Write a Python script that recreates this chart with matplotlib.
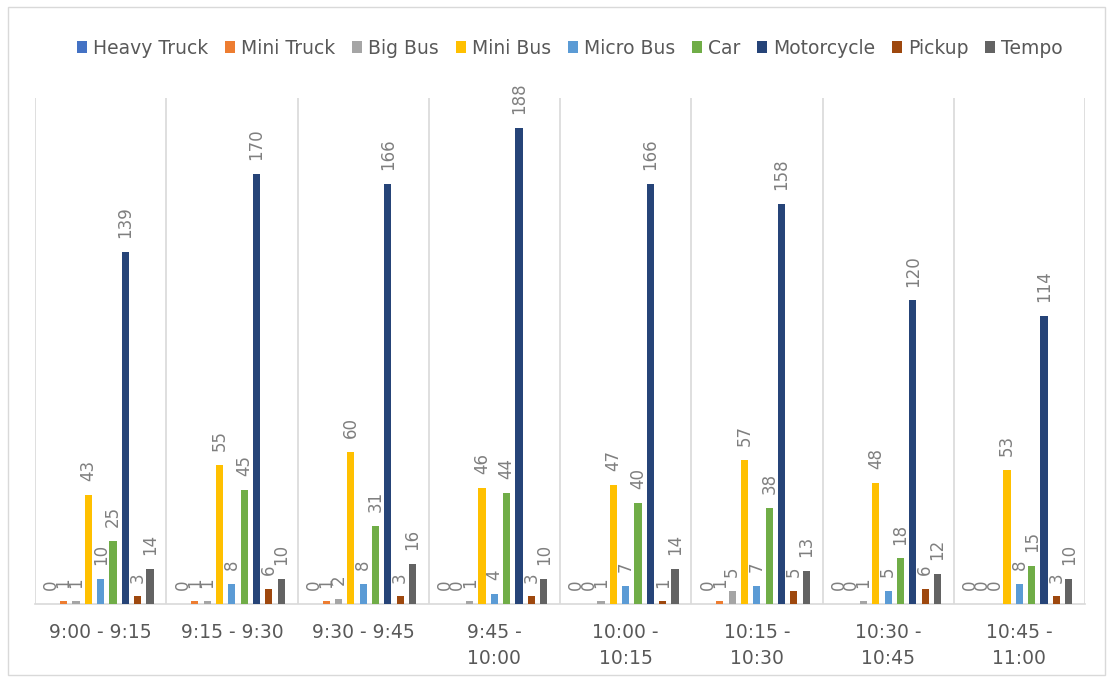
import matplotlib
matplotlib.use("Agg")
import matplotlib.pyplot as plt
import numpy as np
from matplotlib.patches import Rectangle

categories = ["9:00 - 9:15", "9:15 - 9:30", "9:30 - 9:45", "9:45 -\n10:00",
              "10:00 -\n10:15", "10:15 -\n10:30", "10:30 -\n10:45", "10:45 -\n11:00"]
series_names = ["Heavy Truck", "Mini Truck", "Big Bus", "Mini Bus", "Micro Bus",
                "Car", "Motorcycle", "Pickup", "Tempo"]
heavy_truck = [0, 0, 0, 0, 0, 0, 0, 0]
mini_truck = [1, 1, 1, 0, 0, 1, 0, 0]
big_bus = [1, 1, 2, 1, 1, 5, 1, 0]
mini_bus = [43, 55, 60, 46, 47, 57, 48, 53]
micro_bus = [10, 8, 8, 4, 7, 7, 5, 8]
car = [25, 45, 31, 44, 40, 38, 18, 15]
motorcycle = [139, 170, 166, 188, 166, 158, 120, 114]
pickup = [3, 6, 3, 3, 1, 5, 6, 3]
tempo = [14, 10, 16, 10, 14, 13, 12, 10]
colors = ["#4472C4", "#ED7D31", "#A5A5A5", "#FFC000", "#5B9BD5",
          "#70AD47", "#264478", "#9E480E", "#636363"]

series = [heavy_truck, mini_truck, big_bus, mini_bus, micro_bus, car, motorcycle, pickup, tempo]

fig = plt.figure(figsize=(11.13, 6.82), dpi=100)
ax = fig.add_axes([35/1113, 1-604/682, (1085-35)/1113, (604-98)/682])

n = len(series)
x = np.arange(len(categories))
step = 0.094
width = 0.055
for i, (name, vals, c) in enumerate(zip(series_names, series, colors)):
    pos = x + (i - (n - 1) / 2) * step
    ax.bar(pos, vals, width=width, color=c, label=name, zorder=3)
    for p, v in zip(pos, vals):
        ax.annotate(str(v), (p, v), xytext=(0, 10), textcoords="offset points",
                    rotation=90, ha="center", va="bottom",
                    fontsize=12, color="#7F7F7F", zorder=4)

ax.set_xlim(-0.5, len(categories) - 0.5)
ax.set_ylim(0, 200)
ax.set_yticks([])
for b in np.arange(-0.5, len(categories) + 0.5, 1):
    ax.axvline(b, color="#D9D9D9", lw=1.2, zorder=1)
for s in ["top", "right", "left"]:
    ax.spines[s].set_visible(False)
ax.spines["bottom"].set_color("#D9D9D9")
ax.spines["bottom"].set_linewidth(1.2)
ax.set_xticks(x)
ax.set_xticklabels(categories, fontsize=13.5, color="#595959", linespacing=1.45)
ax.tick_params(axis="x", length=0, pad=14)

leg = fig.legend(loc="upper center", bbox_to_anchor=(0.512, 0.968), ncol=9, frameon=False,
                 fontsize=13.5, handlelength=0.55, handleheight=0.55, handletextpad=0.3,
                 columnspacing=0.9)
for t in leg.get_texts():
    t.set_color("#595959")

fig.patches.append(Rectangle((8/1113, 0.01), 1 - 16/1113, 0.98, transform=fig.transFigure,
                             fill=False, edgecolor="#D9D9D9", lw=1))

fig.savefig("out.png", dpi=100, facecolor="white")
